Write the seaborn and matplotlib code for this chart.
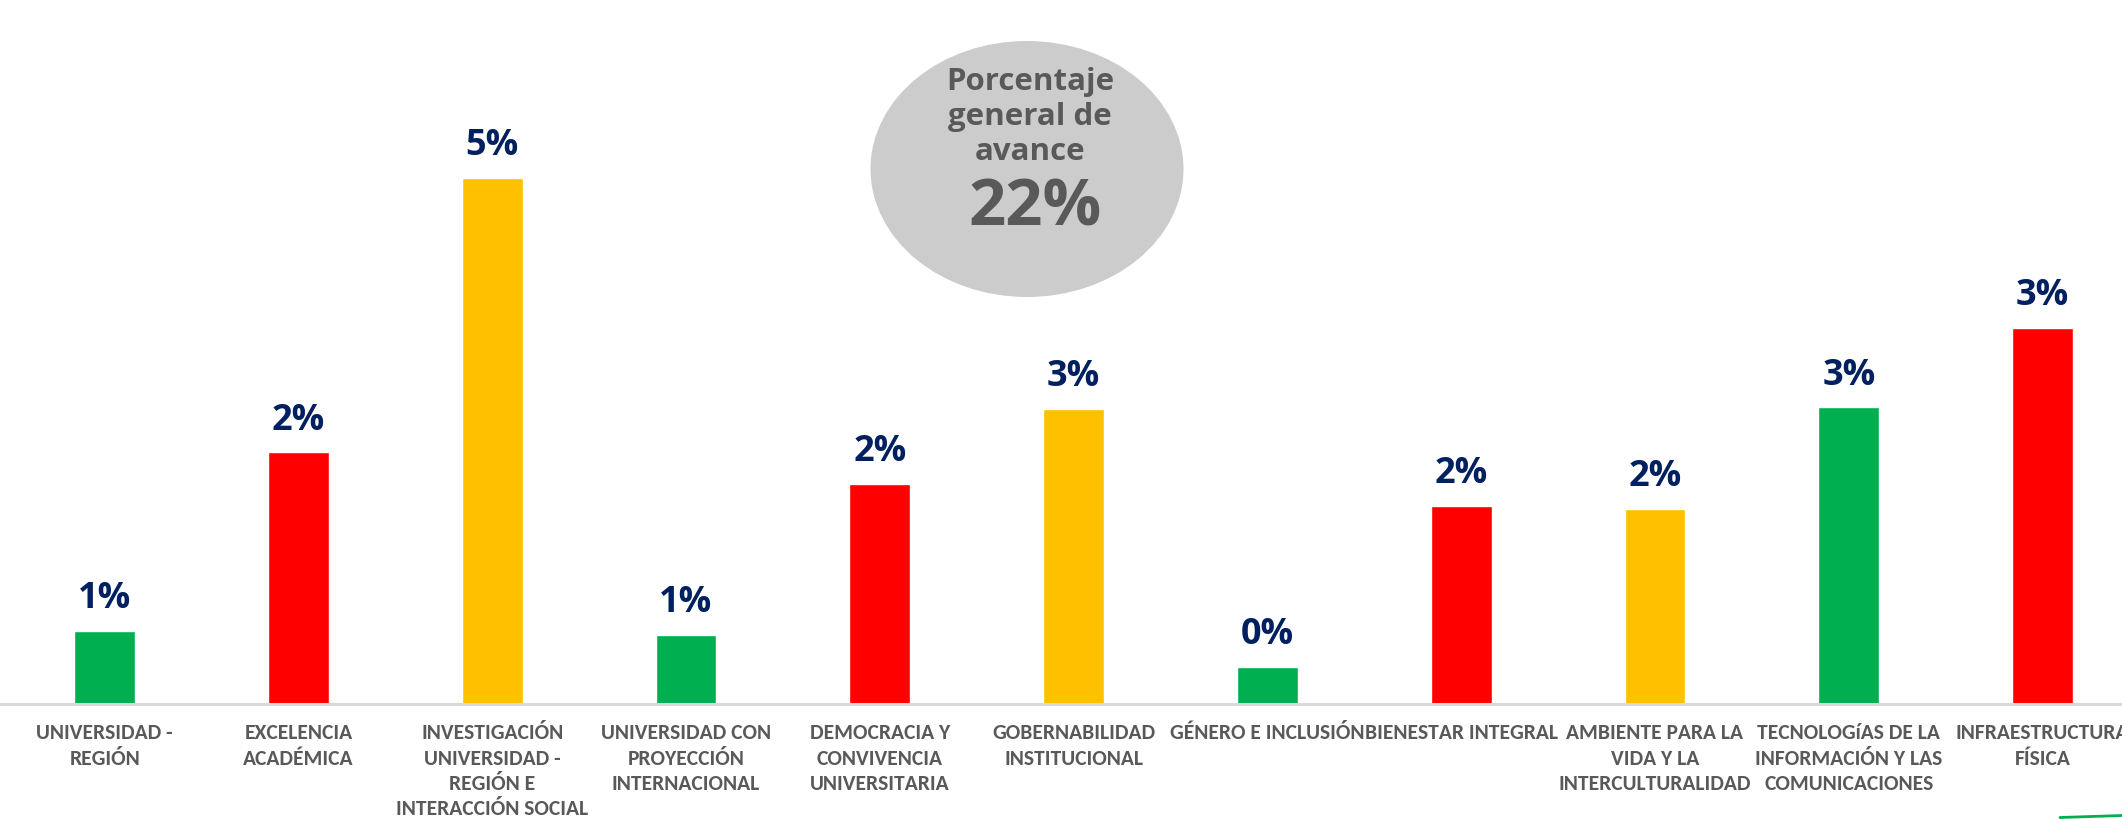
import matplotlib
matplotlib.use("Agg")
import matplotlib.pyplot as plt
from matplotlib.patches import Ellipse
from matplotlib.lines import Line2D
from matplotlib import font_manager
import seaborn as sns
import pandas as pd

categories = [
    "UNIVERSIDAD -\nREGIÓN",
    "EXCELENCIA\nACADÉMICA",
    "INVESTIGACIÓN\nUNIVERSIDAD -\nREGIÓN E\nINTERACCIÓN SOCIAL",
    "UNIVERSIDAD CON\nPROYECCIÓN\nINTERNACIONAL",
    "DEMOCRACIA Y\nCONVIVENCIA\nUNIVERSITARIA",
    "GOBERNABILIDAD\nINSTITUCIONAL",
    "GÉNERO E INCLUSIÓN",
    "BIENESTAR INTEGRAL",
    "AMBIENTE PARA LA\nVIDA Y LA\nINTERCULTURALIDAD",
    "TECNOLOGíAS DE LA\nINFORMACIÓN Y LAS\nCOMUNICACIONES",
    "INFRAESTRUCTURA\nFÍSICA",
]
avance = [0.63, 2.18, 4.56, 0.60, 1.91, 2.56, 0.32, 1.72, 1.69, 2.57, 3.26]
semaforo = ["#00B050", "#FF0000", "#FFC000", "#00B050", "#FF0000", "#FFC000",
            "#00B050", "#FF0000", "#FFC000", "#00B050", "#FF0000"]
total_label = "22%"

sns.set_theme(style="white")

# Calibri-like narrow face for category labels
installed = set(f.name for f in font_manager.fontManager.ttflist)
narrow = next((f for f in ["Carlito", "Open Sans Condensed", "Roboto Condensed",
                           "Asap Condensed", "Barlow Semi Condensed"]
               if f in installed), "DejaVu Sans")
plt.rcParams["font.family"] = ["Open Sans", "DejaVu Sans"]

df = pd.DataFrame({"eje": categories, "avance": avance})

fig = plt.figure(figsize=(21.22, 8.19), dpi=100)
ax = fig.add_axes([0, 0.1404, 1, 0.8596])
sns.barplot(data=df, x="eje", y="avance", hue="eje", palette=semaforo,
            width=0.314, legend=False, saturation=1, ax=ax)

ax.set_xlim(-0.54, 10.41)
ax.set_ylim(0, 6.1)
ax.set_xlabel("")
ax.set_ylabel("")
ax.set_yticks([])
for s in ["top", "left", "right"]:
    ax.spines[s].set_visible(False)
ax.spines["bottom"].set_color("#d9d9d9")
ax.spines["bottom"].set_linewidth(2.2)
ax.tick_params(axis="x", length=0, pad=14)
for lbl in ax.get_xticklabels():
    lbl.set_fontfamily([narrow, "DejaVu Sans"])
    lbl.set_fontweight("bold")
    lbl.set_fontsize(15.5)
    lbl.set_color("#595959")
    lbl.set_linespacing(1.33)

for cont in ax.containers:
    ax.bar_label(cont, fmt="%.0f%%", padding=10, fontsize=26, fontweight="bold",
                 color="#002060")

# burbuja de avance general
bubble = Ellipse((1027 / 2122, 1 - 169 / 819), 313 / 2122, 256 / 819,
                 transform=fig.transFigure, facecolor="#cccccc", edgecolor="none")
fig.patches.append(bubble)
fig.text(1030 / 2122, 1 - 117 / 819, "Porcentaje\ngeneral de\navance",
         ha="center", va="center", fontsize=22.5, fontweight="bold",
         color="#595959", linespacing=1.2)
fig.text(1035 / 2122, 1 - 209 / 819, total_label, ha="center", va="center",
         fontsize=47, fontweight="bold", color="#595959")

# trazo verde decorativo en la esquina
fig.lines.append(Line2D([2060 / 2122, 1], [1.5 / 819, 3.5 / 819],
                        transform=fig.transFigure, color="#00B050", lw=2))

fig.savefig("out.png", dpi=100)
